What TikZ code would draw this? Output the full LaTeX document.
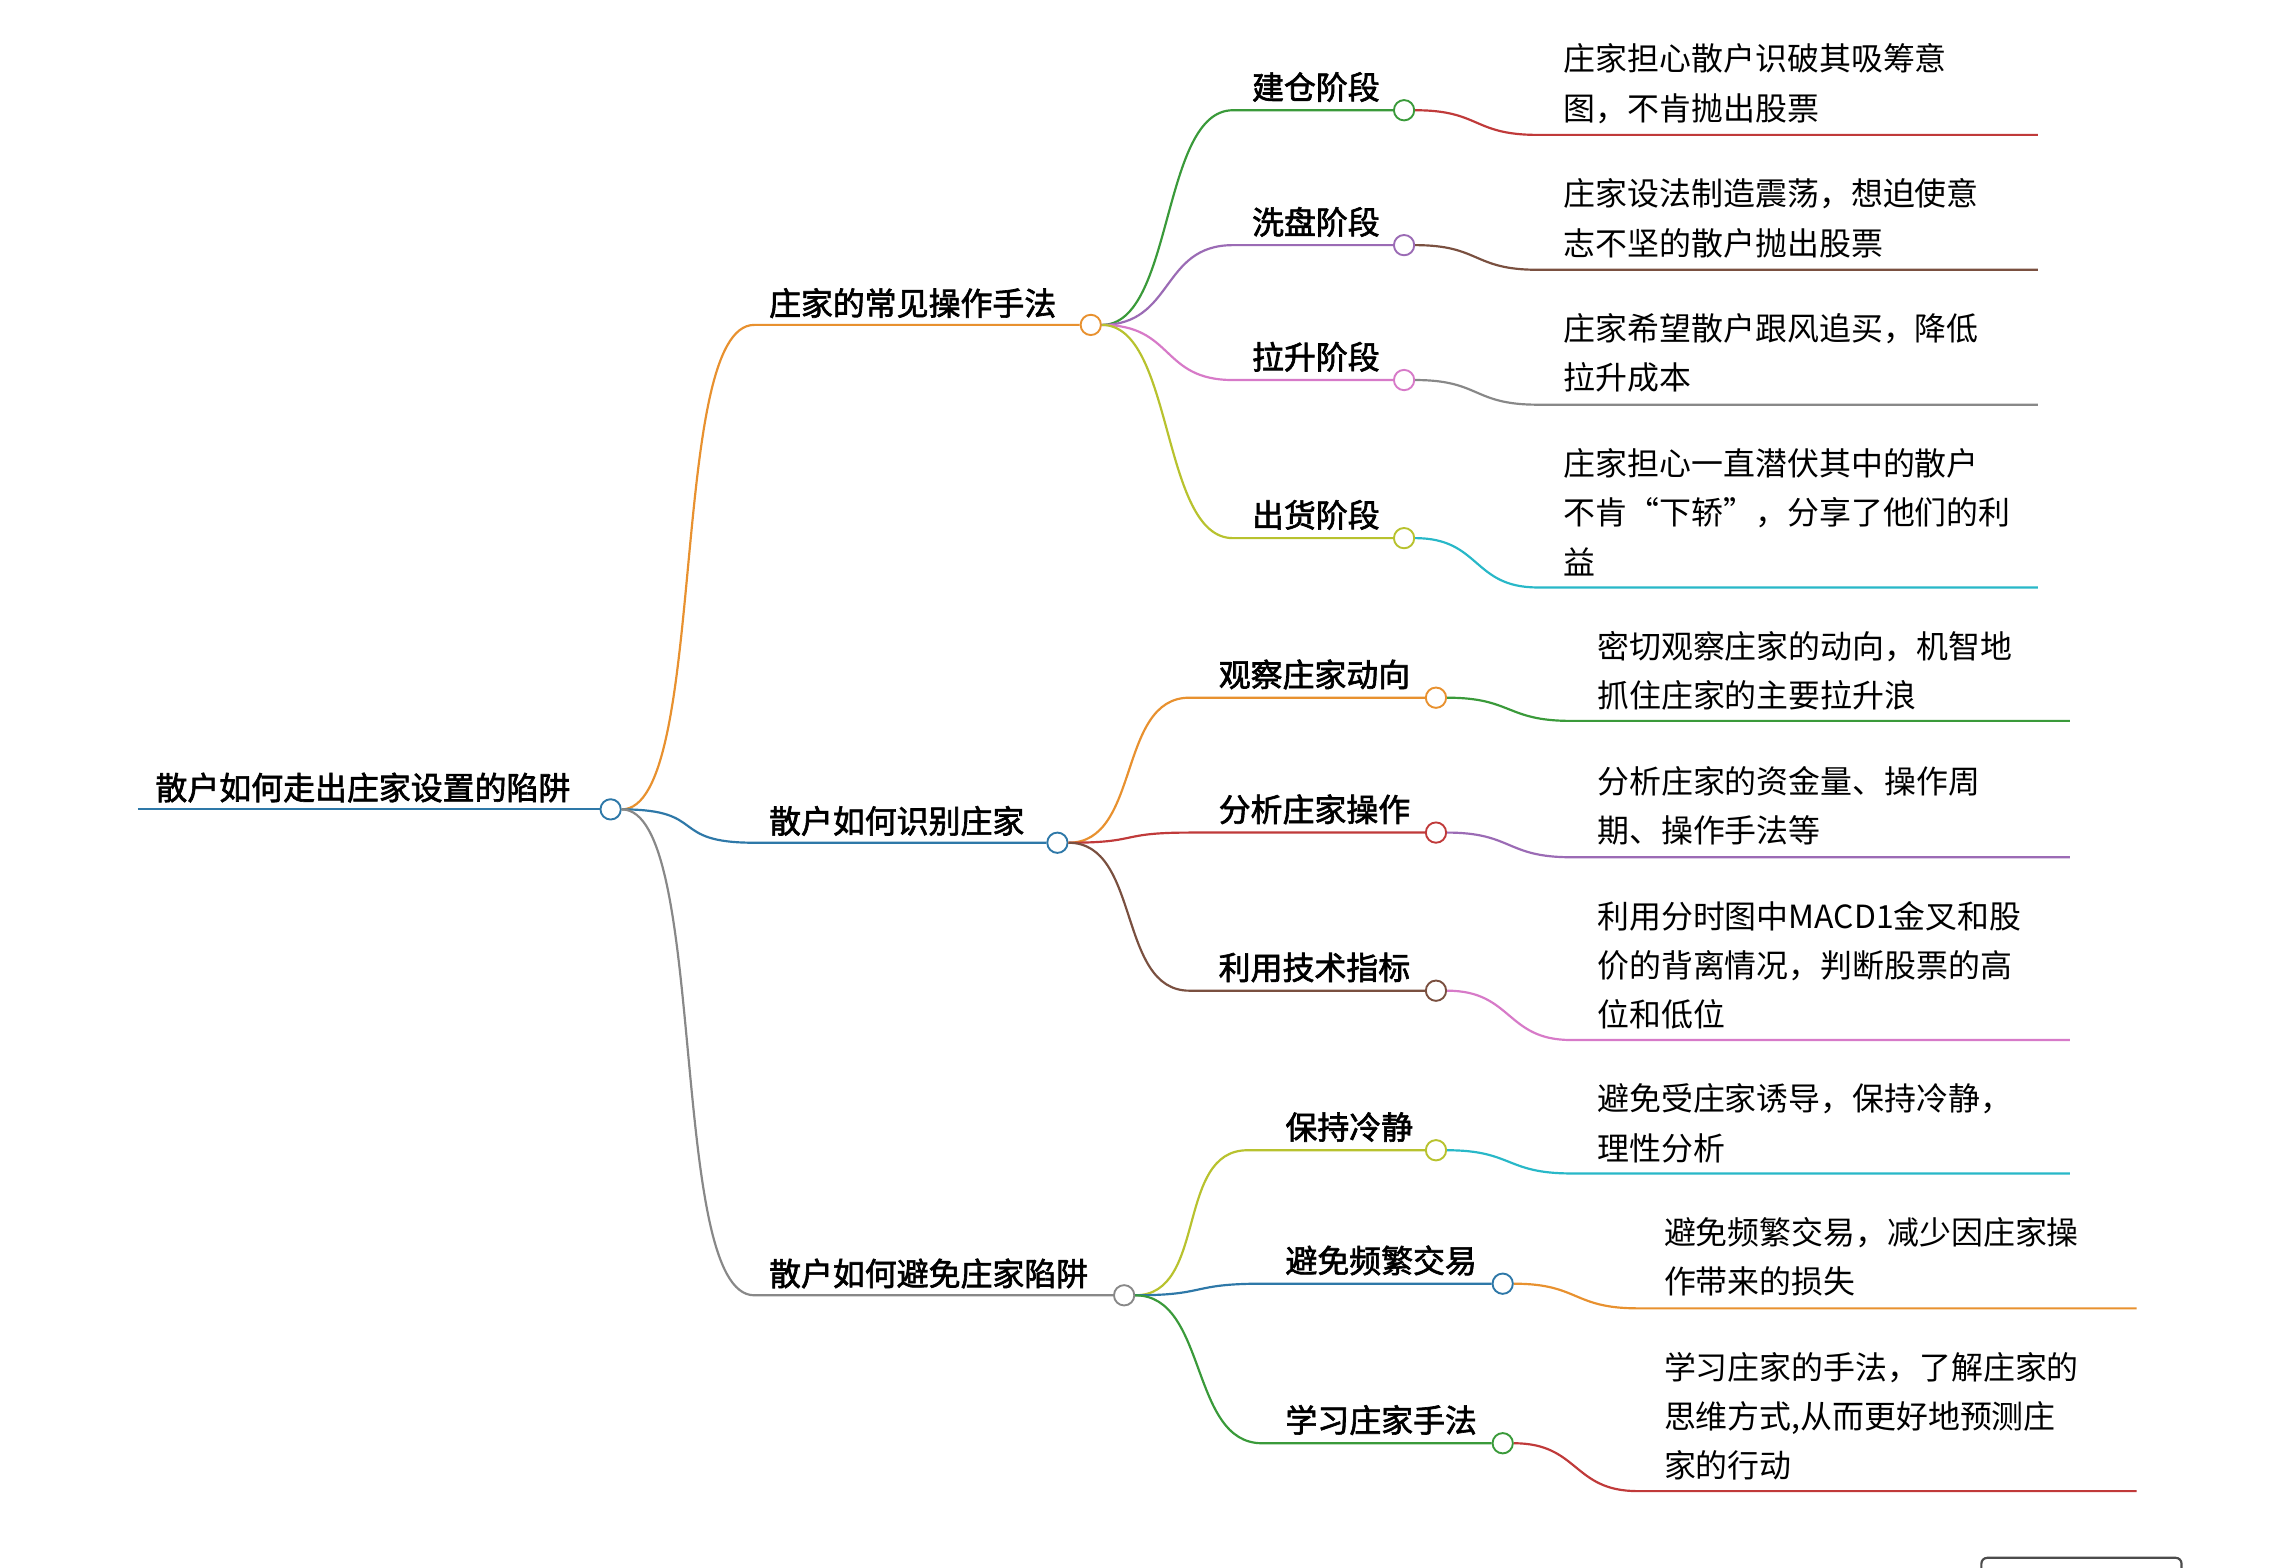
\documentclass[tikz,border=0pt]{standalone}
\usepackage{fontspec}
\setmainfont{Noto Sans CJK SC}[AutoFakeBold=2]
\begin{document}
\begin{tikzpicture}[x=1pt,y=-1pt,
  lab/.style={anchor=west,font=\bfseries\fontsize{22}{26}\selectfont,inner sep=0},
  desc/.style={anchor=north west,align=left,font=\fontsize{22}{34}\selectfont,inner sep=0},
  dot/.style={circle,draw=#1,fill=white,line width=1.3pt,minimum size=14pt,inner sep=0},
  ln/.style={draw=#1,line width=1.5pt}]
\definecolor{cB}{HTML}{2E78A8}\definecolor{cO}{HTML}{E8912F}\definecolor{cG}{HTML}{3A9A3A}
\definecolor{cR}{HTML}{C03A3A}\definecolor{cP}{HTML}{9B6BB5}\definecolor{cBr}{HTML}{7A5040}
\definecolor{cPk}{HTML}{D77AC8}\definecolor{cGy}{HTML}{888888}\definecolor{cY}{HTML}{B8C22E}
\definecolor{cC}{HTML}{28B8C8}
\clip (0,0) rectangle (1565,1081);
\path[fill=white] (0,0) rectangle (1565,1081);
% root
\node[lab] (root) at (107,543) {散户如何走出庄家设置的陷阱};
\coordinate (r0) at (95,558);
\node[dot=cB] (rc) at (421,558) {};
\draw[ln=cB] (r0) -- (rc.west);
\newcommand\branch[7]{%
  \node[lab] (#1t) at (#2,#3-15) {#7};
  \coordinate (#1s) at (#6,#3);
  \node[dot=#5] (#1) at (#4,#3) {};
}
\branch{b1}{530}{224}{752}{cO}{520}{庄家的常见操作手法}
\branch{b2}{530}{581}{729}{cB}{520}{散户如何识别庄家}
\branch{b3}{530}{893}{775}{cGy}{520}{散户如何避免庄家陷阱}
\foreach \b/\c in {b1/cO,b2/cB,b3/cGy}{
  \draw[ln=\c] (rc.east) .. controls +(60,0) and ([xshift=-60]\b s) .. (\b s) -- (\b.west);
}
\newcommand\leaf[8]{%
  \node[lab] (#1t) at (#2,#3-16) {#7};
  \coordinate (#1s) at (#6,#3);
  \node[dot=#5] (#1) at (#4,#3) {};
  \draw[ln=#5] (#8.east) .. controls +(50,0) and ([xshift=-50]#1s) .. (#1s) -- (#1.west);
}
\leaf{l1}{863}{76}{968}{cG}{850}{建仓阶段}{b1}
\leaf{l2}{863}{169}{968}{cP}{850}{洗盘阶段}{b1}
\leaf{l3}{863}{262}{968}{cPk}{850}{拉升阶段}{b1}
\leaf{l4}{863}{371}{968}{cY}{850}{出货阶段}{b1}
\leaf{m1}{840}{481}{990}{cO}{820}{观察庄家动向}{b2}
\leaf{m2}{840}{574}{990}{cR}{820}{分析庄家操作}{b2}
\leaf{m3}{840}{683}{990}{cBr}{820}{利用技术指标}{b2}
\leaf{n1}{886}{793}{990}{cY}{860}{保持冷静}{b3}
\leaf{n2}{886}{885}{1036}{cB}{870}{避免频繁交易}{b3}
\leaf{n3}{886}{995}{1036}{cG}{870}{学习庄家手法}{b3}
\newcommand\dd[7]{%
  \coordinate (#1a) at (#4,#3);\coordinate (#1b) at (#5,#3);
  \draw[ln=#2] (#1.east) .. controls +(45,0) and ([xshift=-45]#1a) .. (#1a) -- (#1b);
  \node[desc] (#1d) at (#4+18,#6) {#7};
}
\dd{l1}{cR}{93}{1060}{1405}{30}{庄家担心散户识破其吸筹意\\图，不肯抛出股票}
\dd{l2}{cBr}{186}{1060}{1405}{123}{庄家设法制造震荡，想迫使意\\志不坚的散户抛出股票}
\dd{l3}{cGy}{279}{1060}{1405}{216}{庄家希望散户跟风追买，降低\\拉升成本}
\dd{l4}{cC}{405}{1060}{1405}{309}{庄家担心一直潜伏其中的散户\\不肯“下轿”，分享了他们的利\\益}
\dd{m1}{cG}{497}{1083}{1427}{435}{密切观察庄家的动向，机智地\\抓住庄家的主要拉升浪}
\dd{m2}{cP}{591}{1083}{1427}{528}{分析庄家的资金量、操作周\\期、操作手法等}
\dd{m3}{cPk}{717}{1083}{1427}{621}{利用分时图中MACD1金叉和股\\价的背离情况，判断股票的高\\位和低位}
\dd{n1}{cC}{809}{1083}{1427}{747}{避免受庄家诱导，保持冷静，\\理性分析}
\dd{n2}{cO}{902}{1129}{1473}{839}{避免频繁交易，减少因庄家操\\作带来的损失}
\dd{n3}{cR}{1028}{1129}{1473}{932}{学习庄家的手法，了解庄家的\\思维方式,从而更好地预测庄\\家的行动}
\draw[line width=1.5pt,rounded corners=4pt,draw=black!70] (1366,1095) rectangle (1504,1074);
\end{tikzpicture}
\end{document}
